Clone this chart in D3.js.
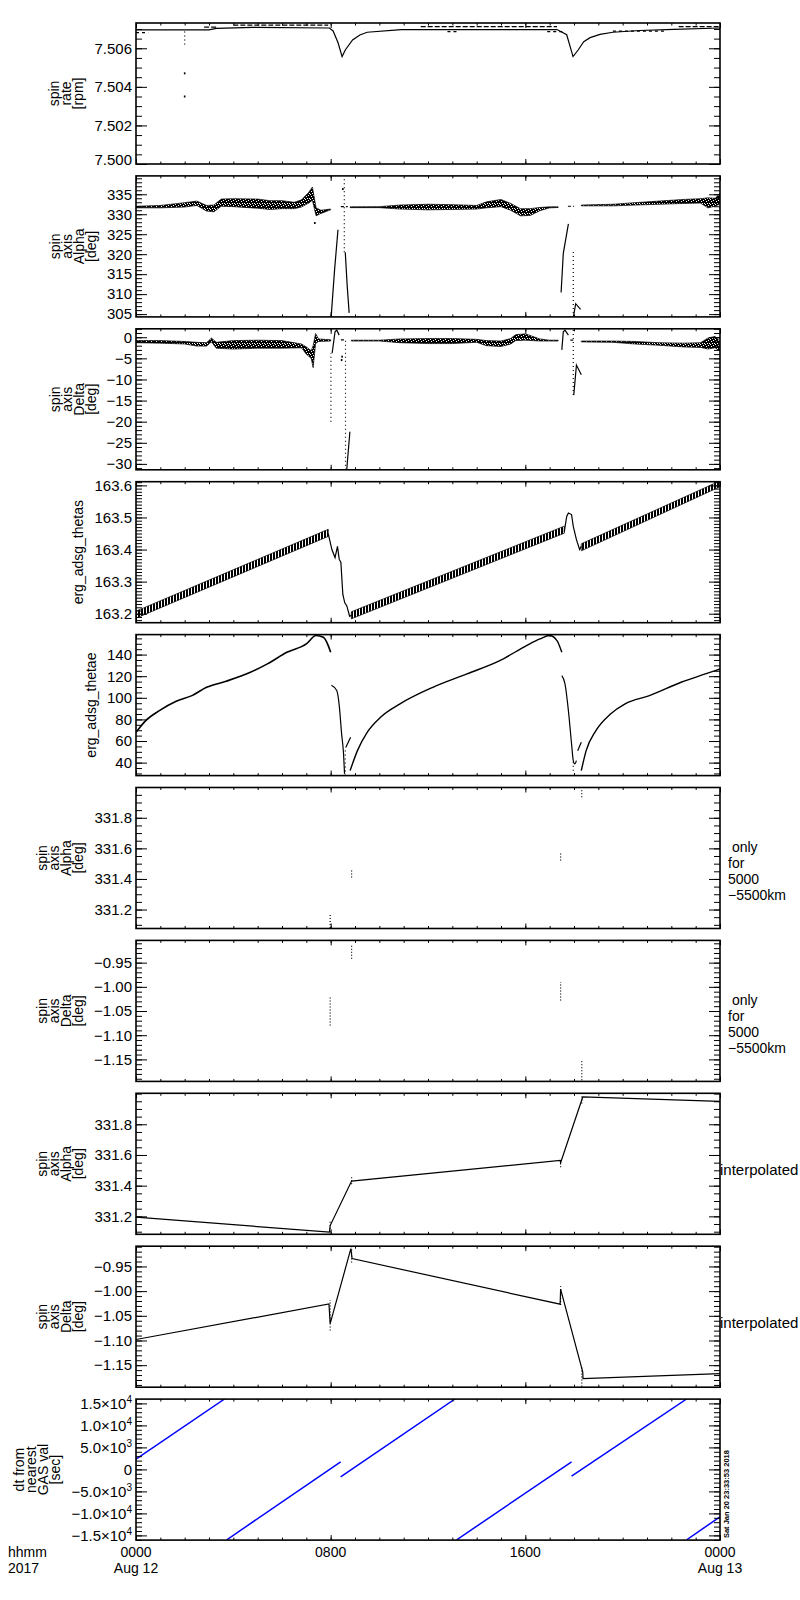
<!DOCTYPE html>
<html>
<head>
<meta charset="utf-8">
<script src="https://cdn.jsdelivr.net/npm/d3@7"></script>
<style>
  body { margin: 0; background: #fff; }
  text { font-family: "Liberation Sans", Arial, sans-serif; fill: #000; }
</style>
</head>
<body>
<svg id="chart" width="800" height="1600"></svg>
<script>
// time axis: hours since 2017-08-12 0000
const hourTicks = [0, 8, 16, 24];
const hourTickLabels = ["0000", "0800", "1600", "0000"];
const dayLabels = ["Aug 12", "", "", "Aug 13"];

// panel titles and right hand notes
const panelTitles = [
    ["spin", "rate", "[rpm]"],
    ["spin", "axis", "Alpha", "[deg]"],
    ["spin", "axis", "Delta", "[deg]"],
    ["erg_adsg_thetas"],
    ["erg_adsg_thetae"],
    ["spin", "axis", "Alpha", "[deg]"],
    ["spin", "axis", "Delta", "[deg]"],
    ["spin", "axis", "Alpha", "[deg]"],
    ["spin", "axis", "Delta", "[deg]"],
    ["dt from", "nearest", "GAS val", "[sec]"]
];
const onlyNote = ["\u00a0only", "for", "5000", "\u22125500km"];
const interpNote = ["interpolated"];

// y ranges and ticks
const panelDomains = [[7.5000, 7.50731], [304.3, 339.6], [-31.4, 2.0], [163.172, 163.6115], [28, 158.5],
    [331.076, 331.998], [-1.1955, -0.904], [331.083, 332.002], [-1.1946, -0.909], [-16070, 15977]];
const panelMajor = [
    [7.500, 7.502, 7.504, 7.506],
    [305, 310, 315, 320, 325, 330, 335],
    [-30, -25, -20, -15, -10, -5, 0],
    [163.2, 163.3, 163.4, 163.5, 163.6],
    [40, 60, 80, 100, 120, 140],
    [331.2, 331.4, 331.6, 331.8],
    [-1.15, -1.10, -1.05, -1.00, -0.95],
    [331.2, 331.4, 331.6, 331.8],
    [-1.15, -1.10, -1.05, -1.00, -0.95],
    [-15000, -10000, -5000, 0, 5000, 10000, 15000]
];
const panelMinorStep = [0.0005, 1, 1, 0.01, 5, 0.05, 0.01, 0.05, 0.01, 1000];
const panelFormat = [".3f", "d", "d", ".1f", "d", ".1f", ".2f", ".1f", ".2f", null];
const dtTickText = [["\u22121.5\u00d710", "4"], ["\u22121.0\u00d710", "4"], ["\u22125.0\u00d710", "3"], ["0", ""],
    ["5.0\u00d710", "3"], ["1.0\u00d710", "4"], ["1.5\u00d710", "4"]];

// 1: spin rate [rpm]
const rateHours = [0, 3.0, 3.3, 4.8, 7.95, 8.1, 8.3, 8.47, 8.6, 8.9, 9.2, 9.5, 10.9, 17.3, 17.7, 17.96, 18.17, 18.4, 18.66, 19.07, 19.6, 20.7, 22.1, 24];
const rateValues = [7.50695, 7.50695, 7.50703, 7.50708, 7.50705, 7.50690, 7.50630, 7.50557, 7.50591, 7.50643, 7.50669, 7.50683,
    7.50697, 7.50697, 7.50670, 7.50557, 7.50591, 7.50634, 7.50655, 7.50672, 7.50683, 7.50692, 7.50698, 7.50705];
const rateTopSegs = [[2.8, 3.3, 7.50710], [4.0, 7.9, 7.50720], [11.7, 17.3, 7.50712], [22.3, 24, 7.50712]];
const rateLowSegs = [[0, 0.5, 7.50681], [12.8, 13.2, 7.50686], [16.9, 17.6, 7.50686], [19.6, 21.8, 7.50689]];
const rateSpike = [[2.0, 7.5062, 7.5069]];
const rateSpikeDots = [[2.0, 7.5047], [2.0, 7.5035]];

// 2: spin axis Alpha [deg]
const alphaHoursA = [0, 1, 2, 2.5, 2.9, 3.2, 3.5, 4, 5, 5.5, 6, 6.5, 6.8, 7.1, 7.25, 7.4, 7.6, 8.0];
const alphaLoA = [331.6, 331.6, 331.8, 332.2, 330.8, 330.6, 332.0, 331.9, 331.5, 331.2, 331.4, 331.4, 331.8, 332.8, 333.5, 329.6, 330.2, 331.1];
const alphaHiA = [332.0, 332.2, 332.9, 333.3, 332.2, 332.3, 333.8, 333.9, 333.8, 333.4, 333.4, 333.0, 333.6, 335.5, 336.8, 331.6, 331.0, 331.3];
const alphaHoursB = [8.8, 10, 10.85, 12, 13, 14, 14.4, 15, 15.4, 15.8, 16.2, 16.6, 17.0, 17.35];
const alphaLoB = [331.65, 331.65, 331.3, 331.1, 331.2, 331.3, 331.6, 331.9, 331.0, 329.6, 329.7, 330.9, 331.6, 331.7];
const alphaHiB = [331.85, 331.9, 332.3, 332.5, 332.4, 332.2, 333.1, 333.7, 332.7, 331.4, 331.4, 331.7, 331.85, 331.85];
const alphaHoursC = [18.3, 19.6, 20.5, 21.5, 22.5, 23.2, 23.5, 23.8, 24];
const alphaLoC = [332.1, 332.1, 332.3, 332.5, 332.7, 332.8, 331.6, 332.0, 332.6];
const alphaHiC = [332.3, 332.5, 332.9, 333.3, 333.7, 333.9, 334.1, 334.0, 335.2];
const alphaJumpHours1 = [8.02, 8.16, 8.3];
const alphaJump1 = [304.3, 316, 326.1];
const alphaFallHours1 = [8.6, 8.68, 8.76];
const alphaFall1 = [320.5, 312, 305.3];
const alphaJumpHours2 = [17.47, 17.56, 17.77];
const alphaJump2 = [310.4, 320.2, 327.6];
const alphaHookHours = [17.98, 18.07, 18.27];
const alphaHook = [304.5, 307.6, 306.2];
const alphaDotted = [[8.56, 320.5, 339.5], [17.97, 305.3, 321.1]];
const alphaBits = [[8.42, 8.7, 331.9], [17.75, 18.0, 332.0]];
const alphaDots = [[8.5, 336.3], [7.35, 327.8]];

// 3: spin axis Delta [deg]
const deltaHoursA = [0, 1, 2, 2.5, 2.9, 3.1, 3.3, 4, 5, 6, 6.8, 7.0, 7.2, 7.28, 7.38, 7.5, 8.0];
const deltaLoA = [-1.3, -1.4, -1.6, -2.1, -2.1, -1.1, -2.6, -2.8, -2.6, -2.6, -2.5, -4.0, -5.0, -7.2, -1.5, -1.0, -0.9];
const deltaHiA = [-0.8, -0.8, -1.0, -1.2, -1.3, -0.2, -1.2, -0.8, -0.7, -0.8, -1.6, -2.3, -3.2, -2.0, 0.9, -0.4, -0.6];
const deltaHoursB = [8.85, 10, 10.85, 12, 13, 14, 14.4, 15, 15.4, 15.6, 16, 16.6, 17.0, 17.35];
const deltaLoB = [-0.9, -0.9, -1.3, -1.5, -1.5, -1.2, -2.0, -2.2, -1.6, -0.8, -0.7, -0.9, -0.9, -0.9];
const deltaHiB = [-0.7, -0.7, -0.4, -0.3, -0.3, -0.5, -0.8, -0.9, -0.3, 0.6, 0.8, -0.4, -0.7, -0.7];
const deltaHoursC = [18.3, 19.6, 20.5, 21.5, 22.5, 23.2, 23.5, 23.8, 24];
const deltaLoC = [-1.1, -1.2, -1.6, -1.9, -2.3, -2.4, -2.8, -2.5, -3.3];
const deltaHiC = [-0.9, -0.9, -1.0, -1.3, -1.4, -1.3, -0.2, 0.2, -1.0];
const deltaRiseHours1 = [8.06, 8.18, 8.25, 8.35];
const deltaRise1 = [-3.8, 1.3, 1.7, 0.5];
const deltaFallHours1 = [8.66, 8.79];
const deltaFall1 = [-31.4, -22.4];
const deltaRiseHours2 = [17.5, 17.56, 17.63, 17.77];
const deltaRise2 = [-3.0, 1.3, 1.7, 0.5];
const deltaHookHours = [17.99, 18.1, 18.3];
const deltaHook = [-13.7, -6.6, -8.9];
const deltaDotted = [[8.01, -20, -3.8], [8.61, -31.4, -0.5], [17.97, -13.7, 1.7]];
const deltaBits = [[8.42, 8.55, -0.6], [17.85, 17.97, -0.7]];
const deltaDots = [[8.45, -5.4], [8.47, -4.6]];

// 4: erg_adsg_thetas
const thetasHoursA = [0, 7.9];
const thetasLoA = [163.186, 163.441];
const thetasHiA = [163.208, 163.463];
const thetasHoursB = [8.85, 17.6];
const thetasLoB = [163.184, 163.451];
const thetasHiB = [163.206, 163.473];
const thetasHoursC = [18.3, 24];
const thetasLoC = [163.396, 163.596];
const thetasHiC = [163.418, 163.614];
const thetasDropHours = [7.9, 8.05, 8.18, 8.28, 8.35, 8.42, 8.5, 8.58, 8.66, 8.78, 8.85];
const thetasDrop = [163.45, 163.40, 163.375, 163.41, 163.37, 163.36, 163.26, 163.234, 163.225, 163.192, 163.195];
const thetasBumpHours = [17.6, 17.7, 17.77, 17.9, 17.97, 18.1, 18.23, 18.3];
const thetasBump = [163.455, 163.503, 163.514, 163.509, 163.472, 163.431, 163.40, 163.41];

// 5: erg_adsg_thetae
const thetaeHoursA = [0, 0.4, 0.96, 1.65, 2.3, 2.9, 3.7, 4.7, 5.4, 6.2, 7.0, 7.4, 7.7, 7.9, 8.0];
const thetaeA = [68, 78.9, 88.1, 96.8, 102, 109.7, 115.3, 123.6, 131.4, 142.1, 149.9, 157.6, 156, 148.3, 142.1];
const thetaeHoursB = [8.03, 8.25, 8.36, 8.45, 8.53, 8.57];
const thetaeB = [111.6, 106.7, 91.2, 66.6, 48, 29.6];
const thetaeHoursBr1 = [8.62, 8.82];
const thetaeBr1 = [54, 63.5];
const thetaeHoursC = [8.8, 9.1, 9.5, 10.05, 10.85, 12.2, 13.6, 14.95, 16.05, 16.6, 17.0, 17.3, 17.5];
const thetaeC = [32.6, 51.1, 68, 82, 94.4, 109.7, 122.1, 134.4, 148.3, 154.5, 157.6, 153, 142.1];
const thetaeHoursD = [17.5, 17.63, 17.77, 17.9, 17.97, 18.03, 18.1];
const thetaeD = [120.6, 112.9, 88.1, 57.3, 41.9, 38.8, 41.9];
const thetaeHoursBr2 = [18.15, 18.3];
const thetaeBr2 = [51, 58.8];
const thetaeHoursE = [18.3, 18.5, 18.9, 19.5, 20.1, 21.1, 22.4, 23.4, 24];
const thetaeE = [32.6, 51.1, 69.6, 85, 94.4, 102, 114.4, 122.1, 126.7];
const thetaeDotted = [[8.6, 28, 54], [17.97, 32.6, 41.9]];

// 6/7: Alpha and Delta only for 5000-5500km (hour, low, high)
const alphaOnly = [[7.98, 331.08, 331.17], [8.86, 331.41, 331.456], [17.45, 331.52, 331.575], [18.32, 331.935, 331.99]];
const deltaOnly = [[7.98, -1.080, -1.018], [8.86, -0.942, -0.911], [17.45, -1.028, -0.990], [18.32, -1.193, -1.152]];

// 8: Alpha interpolated
const alphaInterpHours = [0, 7.95, 7.98, 8.86, 17.43, 17.45, 18.36, 24];
const alphaInterp = [331.195, 331.097, 331.14, 331.43, 331.565, 331.55, 331.978, 331.95];

// 9: Delta interpolated
const deltaInterpHours = [0, 7.93, 7.98, 8.83, 8.88, 17.43, 17.45, 18.36, 18.37, 24];
const deltaInterp = [-1.098, -1.026, -1.066, -0.914, -0.934, -1.0265, -0.996, -1.164, -1.177, -1.167];

// 10: dt from nearest GAS val [sec]
const dtSegHours = [[0, 3.64], [3.73, 8.41], [8.41, 13.11], [13.18, 17.9], [17.9, 22.63], [22.63, 24]];
const dtSegValues = [[2341, 16000], [-16000, 1727], [-1682, 16000], [-16000, 1727], [-1523, 16000], [-16000, -10770]];

const plotLeft = 136, plotRight = 720;
const firstTop = 23, panelStep = 152.9, panelHeight = 141;
const FONT = '"Liberation Sans", Arial, sans-serif';
const noteSize = 14, noteLead = 15.8;

const svg = d3.select("#chart");
svg.append("rect").attr("width", 800).attr("height", 1600).attr("fill", "#fff");

// fill textures for the noisy bands
const defs = svg.append("defs");
const speckle = defs.append("pattern").attr("id", "speckle")
    .attr("width", 5).attr("height", 5).attr("patternUnits", "userSpaceOnUse");
speckle.append("rect").attr("width", 5).attr("height", 5).attr("fill", "#000");
[[1, 1], [3, 0], [4, 3], [0, 4], [2, 3]].forEach(p => {
    speckle.append("rect").attr("x", p[0]).attr("y", p[1]).attr("width", 1).attr("height", 1).attr("fill", "#fff");
});
const hatch = defs.append("pattern").attr("id", "hatch")
    .attr("width", 3).attr("height", 4).attr("patternUnits", "userSpaceOnUse");
hatch.append("rect").attr("width", 3).attr("height", 4).attr("fill", "#fff");
hatch.append("rect").attr("width", 2).attr("height", 4).attr("fill", "#000");

const x = d3.scaleLinear().domain([0, 24]).range([plotLeft, plotRight]);
const zip = (a, b) => a.map((h, i) => [h, b[i]]);

const minorTicks = (domain, step) => {
    const lo = Math.ceil(domain[0] / step - 1e-6), hi = Math.floor(domain[1] / step + 1e-6);
    return d3.range(lo, hi + 1).map(k => +(k * step).toFixed(6));
};

const drawLine = (plot, y, hours, vals, color = "#000", width = 1.2, dash = null, curve = d3.curveLinear) => {
    plot.append("path")
        .datum(zip(hours, vals))
        .attr("d", d3.line().curve(curve).x(d => x(d[0])).y(d => y(d[1])))
        .attr("fill", "none")
        .attr("stroke", color)
        .attr("stroke-width", width)
        .attr("stroke-dasharray", dash);
};

const drawBand = (plot, y, hours, lo, hi, fill = "url(#speckle)") => {
    const rows = hours.map((h, i) => ({ h: h, lo: lo[i], hi: hi[i] }));
    plot.append("path")
        .datum(rows)
        .attr("d", d3.area().x(d => x(d.h)).y0(d => y(d.lo)).y1(d => y(d.hi)))
        .attr("fill", fill)
        .attr("stroke", "#000")
        .attr("stroke-width", 0.7);
};

const drawVerticals = (plot, y, marks, dash = "1,2") => {
    plot.selectAll(null)
        .data(marks)
        .enter()
        .append("line")
        .attr("x1", d => x(d[0])).attr("x2", d => x(d[0]))
        .attr("y1", d => y(d[1])).attr("y2", d => y(d[2]))
        .attr("stroke", "#000")
        .attr("stroke-width", 1.2)
        .attr("stroke-dasharray", dash);
};

const drawSegs = (plot, y, segs, dash = null) => {
    plot.selectAll(null)
        .data(segs)
        .enter()
        .append("line")
        .attr("x1", d => x(d[0])).attr("x2", d => x(d[1]))
        .attr("y1", d => y(d[2])).attr("y2", d => y(d[2]))
        .attr("stroke", "#000")
        .attr("stroke-width", 1.2)
        .attr("stroke-dasharray", dash);
};

const drawDots = (plot, y, dots) => {
    plot.selectAll(null)
        .data(dots)
        .enter()
        .append("rect")
        .attr("x", d => x(d[0]) - 0.8).attr("y", d => y(d[1]) - 1)
        .attr("width", 1.6).attr("height", 2)
        .attr("fill", "#000");
};

const smooth = d3.curveMonotoneX;

const drawers = [
    (plot, y) => {
        drawSegs(plot, y, rateTopSegs, "5,2");
        drawSegs(plot, y, rateLowSegs, "3,3");
        drawLine(plot, y, rateHours, rateValues, "#000", 1.2);
        drawVerticals(plot, y, rateSpike, "1,3");
        drawDots(plot, y, rateSpikeDots);
    },
    (plot, y) => {
        drawBand(plot, y, alphaHoursA, alphaLoA, alphaHiA);
        drawBand(plot, y, alphaHoursB, alphaLoB, alphaHiB);
        drawBand(plot, y, alphaHoursC, alphaLoC, alphaHiC);
        drawLine(plot, y, alphaJumpHours1, alphaJump1);
        drawLine(plot, y, alphaFallHours1, alphaFall1);
        drawLine(plot, y, alphaJumpHours2, alphaJump2);
        drawLine(plot, y, alphaHookHours, alphaHook);
        drawVerticals(plot, y, alphaDotted, "1,3");
        drawSegs(plot, y, alphaBits, "3,2");
        drawDots(plot, y, alphaDots);
    },
    (plot, y) => {
        drawBand(plot, y, deltaHoursA, deltaLoA, deltaHiA);
        drawBand(plot, y, deltaHoursB, deltaLoB, deltaHiB);
        drawBand(plot, y, deltaHoursC, deltaLoC, deltaHiC);
        drawLine(plot, y, deltaRiseHours1, deltaRise1);
        drawLine(plot, y, deltaFallHours1, deltaFall1);
        drawLine(plot, y, deltaRiseHours2, deltaRise2);
        drawLine(plot, y, deltaHookHours, deltaHook);
        drawVerticals(plot, y, deltaDotted, "1,3");
        drawSegs(plot, y, deltaBits, "3,2");
        drawDots(plot, y, deltaDots);
    },
    (plot, y) => {
        drawBand(plot, y, thetasHoursA, thetasLoA, thetasHiA, "url(#hatch)");
        drawBand(plot, y, thetasHoursB, thetasLoB, thetasHiB, "url(#hatch)");
        drawBand(plot, y, thetasHoursC, thetasLoC, thetasHiC, "url(#hatch)");
        drawLine(plot, y, thetasDropHours, thetasDrop);
        drawLine(plot, y, thetasBumpHours, thetasBump);
    },
    (plot, y) => {
        drawLine(plot, y, thetaeHoursA, thetaeA, "#000", 1.6, null, smooth);
        drawLine(plot, y, thetaeHoursB, thetaeB, "#000", 1.2, null, smooth);
        drawLine(plot, y, thetaeHoursBr1, thetaeBr1);
        drawLine(plot, y, thetaeHoursC, thetaeC, "#000", 1.4, null, smooth);
        drawLine(plot, y, thetaeHoursD, thetaeD, "#000", 1.2, null, smooth);
        drawLine(plot, y, thetaeHoursBr2, thetaeBr2);
        drawLine(plot, y, thetaeHoursE, thetaeE, "#000", 1.4, null, smooth);
        drawVerticals(plot, y, thetaeDotted, "1,3");
    },
    (plot, y) => {
        drawVerticals(plot, y, alphaOnly, "1,2");
    },
    (plot, y) => {
        drawVerticals(plot, y, deltaOnly, "1,2");
    },
    (plot, y) => {
        drawLine(plot, y, alphaInterpHours, alphaInterp);
        drawVerticals(plot, y, alphaOnly, "1,2");
    },
    (plot, y) => {
        drawLine(plot, y, deltaInterpHours, deltaInterp);
        drawVerticals(plot, y, deltaOnly, "1,2");
    },
    (plot, y) => {
        dtSegHours.forEach((hours, i) => drawLine(plot, y, hours, dtSegValues[i], "#0000ff", 1.5));
    }
];

const styleAxis = (g) => {
    g.select(".domain").remove();
    g.attr("font-family", FONT).attr("font-size", 15);
    g.selectAll(".tick line").attr("stroke", "#000").attr("stroke-width", 1);
    g.selectAll(".tick text").attr("fill", "#000");
};

const drawPanel = (i) => {
    const top = firstTop + i * panelStep, bottom = top + panelHeight;
    const domain = panelDomains[i];
    const y = d3.scaleLinear().domain(domain).range([bottom, top]);
    const g = svg.append("g");

    svg.append("clipPath").attr("id", "clip" + i)
        .append("rect")
        .attr("x", plotLeft).attr("y", top)
        .attr("width", plotRight - plotLeft).attr("height", panelHeight);

    const plot = g.append("g").attr("clip-path", "url(#clip" + i + ")");
    drawers[i](plot, y);

    const minor = minorTicks(domain, panelMinorStep[i]);
    const hourMinor = d3.range(0, 25);

    // y axes, ticks pointing into the plot
    const left = g.append("g").attr("transform", "translate(" + plotLeft + ",0)")
        .call(d3.axisLeft(y).tickValues(panelMajor[i]).tickSize(-11).tickSizeOuter(0).tickPadding(4)
            .tickFormat(panelFormat[i] ? d3.format(panelFormat[i]) : () => ""))
        .call(styleAxis);
    left.selectAll(".tick text").attr("dy", d => Math.abs(y(d) - bottom) < 2 ? "0.02em" : "0.32em");

    if (i === 9) {
        left.selectAll(".tick text").each(function (d, k) {
            const t = d3.select(this);
            t.text(null);
            t.append("tspan").text(dtTickText[k][0]);
            if (dtTickText[k][1]) {
                t.append("tspan").attr("font-size", 10).attr("dy", "-0.55em").text(dtTickText[k][1]);
            }
        });
    }

    g.append("g").attr("transform", "translate(" + plotLeft + ",0)")
        .call(d3.axisLeft(y).tickValues(minor).tickSize(-6).tickSizeOuter(0).tickFormat(""))
        .call(styleAxis);
    g.append("g").attr("transform", "translate(" + plotRight + ",0)")
        .call(d3.axisRight(y).tickValues(panelMajor[i]).tickSize(-11).tickSizeOuter(0).tickFormat(""))
        .call(styleAxis);
    g.append("g").attr("transform", "translate(" + plotRight + ",0)")
        .call(d3.axisRight(y).tickValues(minor).tickSize(-6).tickSizeOuter(0).tickFormat(""))
        .call(styleAxis);

    // x axes
    g.append("g").attr("transform", "translate(0," + top + ")")
        .call(d3.axisTop(x).tickValues(hourTicks).tickSize(-5).tickSizeOuter(0).tickFormat(""))
        .call(styleAxis);
    g.append("g").attr("transform", "translate(0," + top + ")")
        .call(d3.axisTop(x).tickValues(hourMinor).tickSize(-2.5).tickSizeOuter(0).tickFormat(""))
        .call(styleAxis);
    g.append("g").attr("transform", "translate(0," + bottom + ")")
        .call(d3.axisBottom(x).tickValues(hourTicks).tickSize(-5).tickSizeOuter(0).tickFormat(""))
        .call(styleAxis);
    g.append("g").attr("transform", "translate(0," + bottom + ")")
        .call(d3.axisBottom(x).tickValues(hourMinor).tickSize(-2.5).tickSizeOuter(0).tickFormat(""))
        .call(styleAxis);

    g.append("rect")
        .attr("x", plotLeft).attr("y", top)
        .attr("width", plotRight - plotLeft).attr("height", panelHeight)
        .attr("fill", "none").attr("stroke", "#000").attr("stroke-width", 1.6);

    // stacked, rotated y title left of the tick labels
    let labelLeft = plotLeft;
    left.selectAll(".tick text").each(function () {
        const b = this.getBBox();
        labelLeft = Math.min(labelLeft, plotLeft + b.x);
    });
    const lines = panelTitles[i];
    const lastBase = labelLeft - 11;
    const firstBase = lastBase - (lines.length - 1) * 12;
    const title = g.append("text")
        .attr("transform", "translate(" + firstBase + "," + (top + panelHeight / 2) + ") rotate(-90)")
        .attr("text-anchor", "middle")
        .attr("font-size", 14);
    lines.forEach((line, k) => {
        title.append("tspan").attr("x", 0).attr("dy", k === 0 ? 0 : 12).text(line);
    });

    // notes right of the plot
    const center = top + panelHeight / 2;
    if (i === 5 || i === 6) {
        const first = center + 18 - noteLead * (onlyNote.length - 1) / 2;
        const note = g.append("text").attr("x", plotRight + 8).attr("y", first).attr("font-size", noteSize);
        onlyNote.forEach((line, k) => {
            note.append("tspan").attr("x", plotRight + 8).attr("dy", k === 0 ? 0 : noteLead).text(line);
        });
    }
    if (i === 7 || i === 8) {
        g.append("text").attr("x", plotRight).attr("y", center + 11.5)
            .attr("font-size", 15).text(interpNote[0]);
    }
    return bottom;
};

let lastBottom = 0;
panelTitles.forEach((_, i) => { lastBottom = drawPanel(i); });

// time labels under the last panel, one two-line text per tick
const timeLabels = svg.append("g").attr("font-size", noteSize);
timeLabels.selectAll(null)
    .data(hourTicks)
    .enter()
    .append("text")
    .attr("text-anchor", "middle")
    .attr("y", lastBottom + 17)
    .each(function (d, k) {
        const t = d3.select(this);
        t.append("tspan").attr("x", x(d)).text(hourTickLabels[k]);
        if (dayLabels[k]) t.append("tspan").attr("x", x(d)).attr("dy", noteLead).text(dayLabels[k]);
    });
const unitLabel = timeLabels.append("text").attr("y", lastBottom + 17);
unitLabel.append("tspan").attr("x", 8).text("hhmm");
unitLabel.append("tspan").attr("x", 8).attr("dy", noteLead).text("2017");

// creation stamp
svg.append("text")
    .attr("transform", "translate(728.5," + (lastBottom - 2) + ") rotate(-90)")
    .attr("font-size", 8)
    .attr("font-weight", "bold")
    .attr("textLength", 88)
    .attr("lengthAdjust", "spacingAndGlyphs")
    .text("Sat Jan 20 23:33:53 2018");
</script>
</body>
</html>
